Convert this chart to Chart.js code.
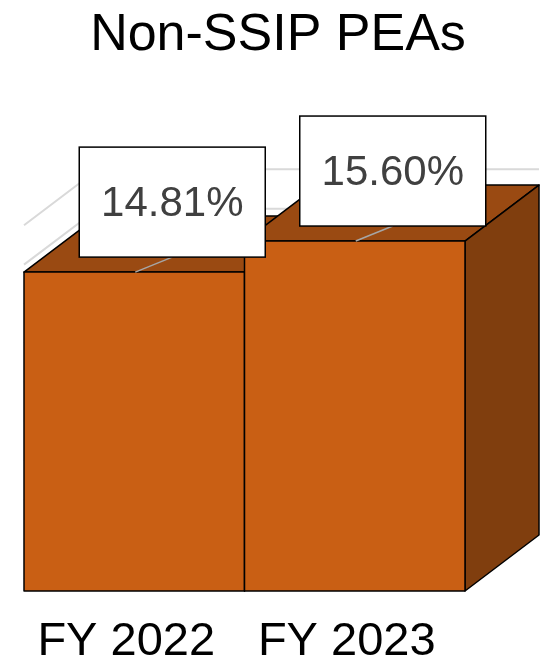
<!DOCTYPE html>
<html>
<head>
<meta charset="utf-8">
<script src="https://cdn.jsdelivr.net/npm/chart.js@4/dist/chart.umd.min.js"></script>
<style>
  html, body { margin: 0; padding: 0; background: #fff; }
  #wrap { width: 544px; height: 665px; }
</style>
</head>
<body>
<div id="wrap"><canvas id="chart" width="544" height="665"></canvas></div>
<script>
// Chart data
const chartTitle = 'Non-SSIP PEAs';
const categories = ['FY 2022', 'FY 2023'];
const values = [14.81, 15.60];
const valueLabels = ['14.81%', '15.60%'];
const gridValues = [7, 8, 9, 10, 11, 12, 13, 14, 15, 16];
const yMin = 6.7;
const yMax = 17;

// 3D look
const DEPTH_X = 74;
const DEPTH_Y = -56;
const FRONT = '#C95F14';
const TOP = '#9A4A12';
const SIDE = '#803E0E';
const FONT = '"Liberation Sans", Arial, sans-serif';

function face(ctx, pts, fill) {
    ctx.beginPath();
    ctx.moveTo(pts[0][0], pts[0][1]);
    for (let i = 1; i < pts.length; i++) ctx.lineTo(pts[i][0], pts[i][1]);
    ctx.closePath();
    ctx.fillStyle = fill;
    ctx.fill();
    ctx.lineWidth = 1.5;
    ctx.strokeStyle = '#000';
    ctx.stroke();
}

const bars3d = {
    id: 'bars3d',
    beforeDatasetsDraw(chart) {
        // back wall and left wall grid lines
        const ctx = chart.ctx;
        const area = chart.chartArea;
        const y = chart.scales.y;
        ctx.save();
        ctx.strokeStyle = '#D9D9D9';
        ctx.lineWidth = 2;
        gridValues.forEach(v => {
            const py = y.getPixelForValue(v);
            ctx.beginPath();
            ctx.moveTo(area.left, py);
            ctx.lineTo(area.left + DEPTH_X, py + DEPTH_Y);
            ctx.lineTo(area.right + DEPTH_X, py + DEPTH_Y);
            ctx.stroke();
        });
        ctx.restore();
    },
    afterDatasetsDraw(chart) {
        const ctx = chart.ctx;
        const meta = chart.getDatasetMeta(0);
        ctx.save();
        ctx.lineJoin = 'round';
        meta.data.forEach(bar => {
            const l = bar.x - bar.width / 2;
            const r = bar.x + bar.width / 2;
            const t = bar.y;
            const b = bar.base;
            face(ctx, [[l, t], [r, t], [r + DEPTH_X, t + DEPTH_Y], [l + DEPTH_X, t + DEPTH_Y]], TOP);
            face(ctx, [[r, t], [r + DEPTH_X, t + DEPTH_Y], [r + DEPTH_X, b + DEPTH_Y], [r, b]], SIDE);
            face(ctx, [[l, t], [r, t], [r, b], [l, b]], FRONT);
        });
        ctx.restore();
    },
    afterDraw(chart) {
        const ctx = chart.ctx;
        const meta = chart.getDatasetMeta(0);
        ctx.save();
        // title, centred on the whole canvas
        ctx.fillStyle = '#000';
        ctx.font = '52px ' + FONT;
        ctx.textAlign = 'center';
        ctx.textBaseline = 'alphabetic';
        ctx.fillText(chartTitle, 278, 50);

        // data label call-outs
        meta.data.forEach((bar, i) => {
            const cx = bar.x + 38;
            const cy = bar.y - 70;
            const w = 186, h = 110;
            ctx.strokeStyle = '#A6A6A6';
            ctx.lineWidth = 1.5;
            ctx.beginPath();
            ctx.moveTo(bar.x + 1, bar.y);
            ctx.lineTo(cx, cy + h / 2);
            ctx.stroke();
            ctx.fillStyle = '#fff';
            ctx.fillRect(cx - w / 2, cy - h / 2, w, h);
            ctx.strokeStyle = '#000';
            ctx.lineWidth = 1.5;
            ctx.strokeRect(cx - w / 2, cy - h / 2, w, h);
            ctx.fillStyle = '#404040';
            ctx.font = '42px ' + FONT;
            ctx.textAlign = 'center';
            ctx.textBaseline = 'middle';
            ctx.fillText(valueLabels[i], cx, cy + 2);
        });
        ctx.restore();
    }
};

new Chart(document.getElementById('chart'), {
    type: 'bar',
    data: {
        labels: categories,
        datasets: [{
            data: values,
            base: yMin,
            backgroundColor: FRONT,
            borderColor: '#000',
            borderWidth: 1.5,
            barPercentage: 1,
            categoryPercentage: 1
        }]
    },
    options: {
        responsive: false,
        animation: false,
        events: [],
        layout: { padding: { left: 24, right: 79, top: 186, bottom: 0 } },
        plugins: {
            legend: { display: false },
            tooltip: { enabled: false },
            title: { display: false }
        },
        scales: {
            x: {
                grid: { display: false, drawTicks: false },
                border: { display: false },
                afterFit(scale) { scale.height = 74; },
                ticks: {
                    color: '#000',
                    padding: 23,
                    labelOffset: -8,
                    maxRotation: 0,
                    font: { family: FONT, size: 47 }
                }
            },
            y: {
                display: false,
                min: yMin,
                max: yMax
            }
        }
    },
    plugins: [bars3d]
});
</script>
</body>
</html>
